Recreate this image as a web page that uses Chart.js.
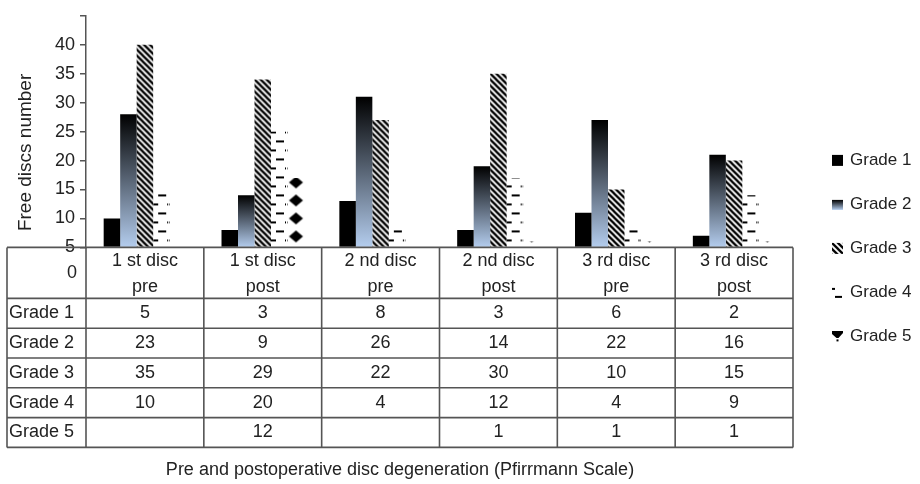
<!DOCTYPE html>
<html>
<head>
<meta charset="utf-8">
<script src="https://cdn.jsdelivr.net/npm/chart.js@4.4.1/dist/chart.umd.min.js"></script>
<style>
  html, body { margin: 0; padding: 0; background: #fff; }
  #wrap { width: 920px; height: 484px; position: relative; }
</style>
</head>
<body>
<div id="wrap"><canvas id="c"></canvas></div>
<script>
// Disc degeneration counts per Pfirrmann grade, before and after surgery
const categories = [
  ['1 st disc', 'pre'], ['1 st disc', 'post'],
  ['2 nd disc', 'pre'], ['2 nd disc', 'post'],
  ['3 rd disc', 'pre'], ['3 rd disc', 'post']
];
const seriesNames = ['Grade 1', 'Grade 2', 'Grade 3', 'Grade 4', 'Grade 5'];
const grade1 = [5, 3, 8, 3, 6, 2];
const grade2 = [23, 9, 26, 14, 22, 16];
const grade3 = [35, 29, 22, 30, 10, 15];
const grade4 = [10, 20, 4, 12, 4, 9];
const grade5 = [null, 12, null, 1, 1, 1];
const yTickLabels = ['5', '10', '15', '20', '25', '30', '35', '40', ''];
const tableCorner = '0';
const xTitle = 'Pre and postoperative disc degeneration (Pfirrmann Scale)';
const yTitle = 'Free discs number';

const seriesValues = [grade1, grade2, grade3, grade4, grade5];

const FONT = "'Liberation Sans', Arial, Helvetica, sans-serif";
const TEXT = '#222';
const LINE = '#555';
const CAT_PCT = 0.7;
const TABLE_H = 200;
const HEADER_H = 51;

Chart.defaults.font.family = FONT;
Chart.defaults.color = TEXT;

// ---- fill tiles -------------------------------------------------------
function tile(w, h, draw) {
  const c = document.createElement('canvas');
  c.width = w; c.height = h;
  const g = c.getContext('2d');
  g.fillStyle = '#fff';
  g.fillRect(0, 0, w, h);
  draw(g);
  return c;
}
const stripeTile = tile(6, 6, g => {
  g.strokeStyle = '#000';
  g.lineWidth = 2.3;
  g.beginPath();
  g.moveTo(-1, -1); g.lineTo(7, 7);
  g.moveTo(-1, 5); g.lineTo(1, 7);
  g.moveTo(5, -1); g.lineTo(7, 1);
  g.stroke();
});
const dashTile = tile(16, 18, g => {
  g.fillStyle = '#000';
  g.fillRect(5, 1, 8, 2);
  g.fillRect(0, 10, 5, 2);
  g.fillRect(14, 10, 1, 2);
});
const diamondTile = tile(17, 18, g => {
  g.fillStyle = '#000';
  g.beginPath();
  g.moveTo(8.5, 1); g.lineTo(15.5, 7); g.lineTo(8.5, 13); g.lineTo(1.5, 7);
  g.closePath();
  g.fill();
});

function anchoredPattern(ctx, t, x, y) {
  const p = ctx.createPattern(t, 'repeat');
  p.setTransform(new DOMMatrix().translate(x, y));
  return p;
}
function blueGradient(ctx, top, bottom) {
  const gr = ctx.createLinearGradient(0, top, 0, bottom);
  gr.addColorStop(0, '#000');
  gr.addColorStop(1, '#b4cdee');
  return gr;
}

// geometry of one bar, taken from the chart's scales
function barGeom(c) {
  const xs = c.chart.scales.x, ys = c.chart.scales.y;
  if (!xs || !ys) return null;
  const catW = (xs.right - xs.left) / categories.length;
  const barW = catW * CAT_PCT / seriesNames.length;
  const left = xs.getPixelForValue(c.dataIndex) - catW * CAT_PCT / 2 + c.datasetIndex * barW;
  const g = { left, barW, top: ys.getPixelForValue(c.raw ?? 0), base: ys.getPixelForValue(0) };
  return [g.left, g.top, g.base].every(Number.isFinite) && g.base > g.top ? g : null;
}

const fillMakers = [
  () => '#000',
  (c, g) => blueGradient(c.chart.ctx, g.top, g.base),
  (c, g) => anchoredPattern(c.chart.ctx, stripeTile, g.left, g.base),
  (c, g) => anchoredPattern(c.chart.ctx, dashTile, g.left, g.base),
  (c, g) => anchoredPattern(c.chart.ctx, diamondTile, g.left, g.base)
];

const datasets = seriesNames.map((name, i) => ({
  label: name,
  data: seriesValues[i],
  borderWidth: 0,
  backgroundColor: c => {
    if (c.type !== 'data') return '#000';
    const g = barGeom(c);
    return g ? fillMakers[i](c, g) : '#000';
  }
}));

// ---- data table under the plot, plus the vertical axis caption ----------
const tablePlugin = {
  id: 'dataTable',
  afterDraw(chart) {
    const ctx = chart.ctx, xs = chart.scales.x, a = chart.chartArea;
    const n = categories.length;
    const catW = (xs.right - xs.left) / n;
    const tableLeft = chart.options.layout.padding.left;
    const top = a.bottom;
    const rowH = (TABLE_H - HEADER_H) / seriesNames.length;
    const bottom = top + TABLE_H;
    const edges = [tableLeft];
    for (let i = 0; i <= n; i++) edges.push(xs.left + i * catW);

    ctx.save();
    ctx.strokeStyle = LINE;
    ctx.lineWidth = 1.6;
    ctx.beginPath();
    edges.forEach(x => { ctx.moveTo(x, top); ctx.lineTo(x, bottom); });
    const rows = [top, top + HEADER_H];
    for (let r = 1; r <= seriesNames.length; r++) rows.push(top + HEADER_H + r * rowH);
    rows.forEach(y => { ctx.moveTo(tableLeft, y); ctx.lineTo(xs.right, y); });
    ctx.stroke();

    ctx.fillStyle = TEXT;
    ctx.font = '18px ' + FONT;
    ctx.textBaseline = 'middle';

    ctx.textAlign = 'right';
    ctx.fillText(tableCorner, xs.left - 9, top + HEADER_H / 2);

    ctx.textAlign = 'center';
    categories.forEach((lines, i) => {
      const cx = xs.getPixelForValue(i);
      ctx.fillText(lines[0], cx, top + 14);
      ctx.fillText(lines[1], cx, top + 40);
    });

    seriesNames.forEach((name, r) => {
      const cy = top + HEADER_H + (r + 0.5) * rowH;
      ctx.textAlign = 'left';
      ctx.fillText(name, tableLeft + 2, cy);
      ctx.textAlign = 'center';
      seriesValues[r].forEach((v, i) => {
        if (v !== null) ctx.fillText(String(v), xs.getPixelForValue(i), cy);
      });
    });

    // vertical axis caption
    ctx.translate(tableLeft + 19, a.bottom - 95);
    ctx.rotate(-Math.PI / 2);
    ctx.textAlign = 'center';
    ctx.font = '19px ' + FONT;
    ctx.fillText(yTitle, 0, 0);
    ctx.restore();
  }
};

// ---- legend on the right ----------------------------------------------
function legendIcon(ctx, i, x, y, s) {
  ctx.fillStyle = '#000';
  if (i === 0) {
    ctx.fillRect(x, y, s, s);
  } else if (i === 1) {
    ctx.fillStyle = blueGradient(ctx, y + 1, y + s);
    ctx.fillRect(x, y + 1, s, s - 1);
  } else if (i === 2) {
    ctx.fillStyle = anchoredPattern(ctx, stripeTile, x, y);
    ctx.fillRect(x, y, s, s);
  } else if (i === 3) {
    ctx.fillRect(x, y + 1, 3, 2);
    ctx.fillRect(x + 3, y + s - 2, 7, 2);
  } else {
    ctx.beginPath();
    ctx.moveTo(x, y); ctx.lineTo(x + s, y); ctx.lineTo(x + s, y + 2);
    ctx.lineTo(x + s / 2 + 1, y + 7); ctx.lineTo(x + s / 2 - 1, y + 7);
    ctx.lineTo(x, y + 3);
    ctx.closePath();
    ctx.fill();
    ctx.fillRect(x + s / 2 - 1, y + 8.5, 2, 2);
  }
}
const legendPlugin = {
  id: 'sideLegend',
  afterDraw(chart) {
    const ctx = chart.ctx, a = chart.chartArea;
    const bx = a.right + 39, box = 11, gap = 44;
    const y0 = a.bottom - 87;
    ctx.save();
    ctx.font = '17px ' + FONT;
    ctx.textBaseline = 'middle';
    ctx.textAlign = 'left';
    seriesNames.forEach((name, i) => {
      const cy = y0 + i * gap;
      legendIcon(ctx, i, bx, cy - box / 2, box);
      ctx.fillStyle = TEXT;
      ctx.fillText(name, bx + 18, cy);
    });
    ctx.restore();
  }
};

new Chart(document.getElementById('c'), {
  type: 'bar',
  data: { labels: categories.map(l => l.join(' ')), datasets },
  options: {
    responsive: true,
    maintainAspectRatio: false,
    animation: false,
    layout: { padding: { left: 7, right: 127, top: 8, bottom: 0 } },
    datasets: { bar: { categoryPercentage: CAT_PCT, barPercentage: 1.0 } },
    scales: {
      x: {
        ticks: { display: false },
        grid: { display: false },
        border: { display: false },
        afterFit(s) { s.height = TABLE_H; }
      },
      y: {
        min: 0, max: 40,
        ticks: {
          stepSize: 5,
          padding: 5,
          color: TEXT,
          font: { size: 18 },
          callback: (v, i) => yTickLabels[i]
        },
        grid: { drawOnChartArea: false, tickLength: 6, color: LINE, lineWidth: 1.5 },
        border: { display: true, color: LINE, width: 1.5 },
        afterFit(s) { s.width = 79; }
      }
    },
    plugins: {
      legend: { display: false },
      tooltip: { enabled: false },
      title: {
        display: true, position: 'bottom', text: xTitle,
        color: TEXT, font: { size: 18, weight: 'normal' },
        padding: { top: 12, bottom: 3 }
      }
    }
  },
  plugins: [tablePlugin, legendPlugin]
});
</script>
</body>
</html>
